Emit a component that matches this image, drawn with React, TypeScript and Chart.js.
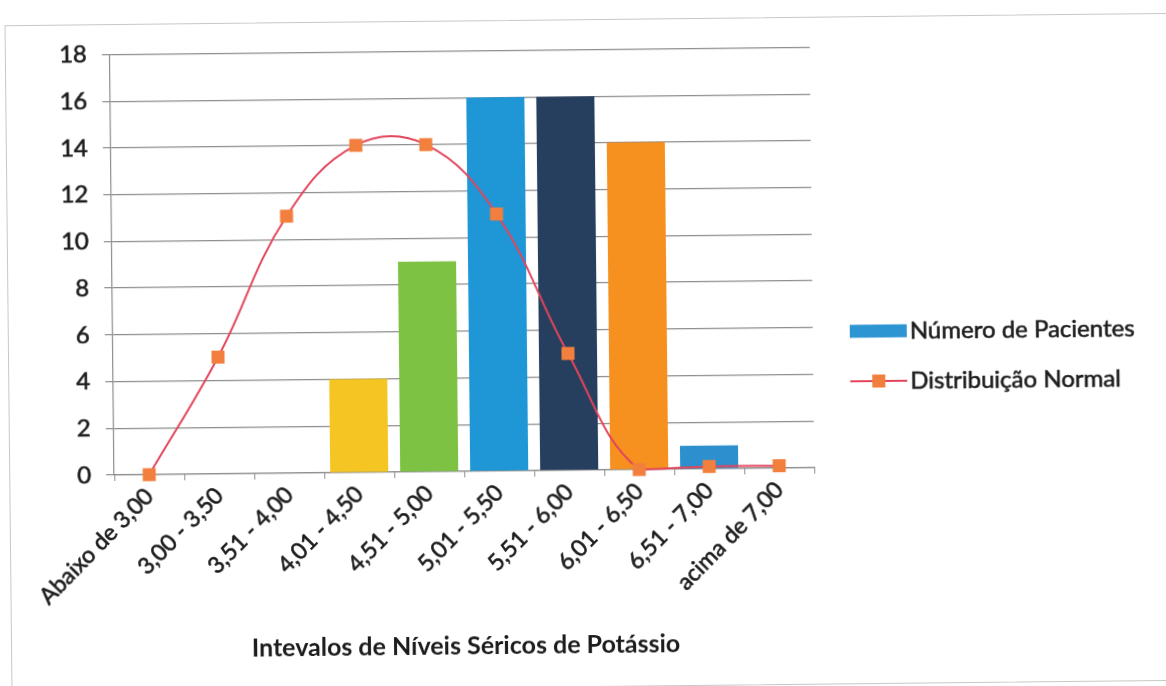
import { useEffect, useRef } from 'react';
import { Chart, registerables } from 'chart.js';

Chart.register(...registerables);

// Potassium level intervals (x categories)
const categories = [
  'Abaixo de 3,00',
  '3,00 - 3,50',
  '3,51 - 4,00',
  '4,01 - 4,50',
  '4,51 - 5,00',
  '5,01 - 5,50',
  '5,51 - 6,00',
  '6,01 - 6,50',
  '6,51 - 7,00',
  'acima de 7,00',
];

// Number of patients per interval
const pacientes = [0, 0, 0, 4, 9, 16, 16, 14, 1, 0];

// Normal distribution curve values
const distribuicaoNormal = [0, 5, 11, 14, 14, 11, 5, 0, 0.1, 0.1];

// Per-bar fill colours
const barColors = [
  '#2E95D3',
  '#2E95D3',
  '#2E95D3',
  '#F5C623',
  '#7DC243',
  '#1F96D5',
  '#263F5F',
  '#F6901F',
  '#2E8FCE',
  '#2E95D3',
];

const seriesNames = ['Número de Pacientes', 'Distribuição Normal'];

const FONT = 'Lato, "Open Sans", sans-serif';
const TEXT_COLOR = '#1c1c1c';
const LINE_COLOR = '#E2455B';
const MARKER_COLOR = '#F27F3D';
const GRID_COLOR = '#8e8e8e';

// Legend drawn at the right of the plot area
const sideLegend = {
  id: 'sideLegend',
  afterDraw(chart: any) {
    const { ctx } = chart;
    const x0 = chart.chartArea.right + 37;
    const boxW = 57;
    const y1 = 314;
    const y2 = 364;
    ctx.save();
    ctx.fillStyle = '#2E95D3';
    ctx.fillRect(x0, y1 - 6.5, boxW, 13);

    ctx.strokeStyle = LINE_COLOR;
    ctx.lineWidth = 2;
    ctx.beginPath();
    ctx.moveTo(x0, y2);
    ctx.lineTo(x0 + boxW, y2);
    ctx.stroke();
    ctx.fillStyle = MARKER_COLOR;
    ctx.fillRect(x0 + boxW / 2 - 6.5, y2 - 6.5, 13, 13);

    ctx.fillStyle = TEXT_COLOR;
    ctx.strokeStyle = TEXT_COLOR;
    ctx.lineWidth = 0.6;
    ctx.font = `24px ${FONT}`;
    ctx.textAlign = 'left';
    ctx.textBaseline = 'middle';
    seriesNames.forEach((name, i) => {
      const y = i === 0 ? y1 : y2;
      ctx.strokeText(name, x0 + boxW + 3, y);
      ctx.fillText(name, x0 + boxW + 3, y);
    });
    ctx.restore();
  },
};

export default function App() {
  const canvasRef = useRef<HTMLCanvasElement>(null);

  useEffect(() => {
    document.body.style.overflow = 'hidden';
    const chart = new Chart(canvasRef.current as HTMLCanvasElement, {
      type: 'bar',
      data: {
        labels: categories,
        datasets: [
          {
            type: 'line',
            label: seriesNames[1],
            data: distribuicaoNormal,
            order: 0,
            clip: false,
            borderColor: LINE_COLOR,
            borderWidth: 2,
            tension: 0.4,
            pointStyle: 'rect',
            pointRadius: 9.2,
            pointBackgroundColor: MARKER_COLOR,
            pointBorderColor: MARKER_COLOR,
            pointBorderWidth: 0,
          } as any,
          {
            type: 'bar',
            label: seriesNames[0],
            data: pacientes,
            order: 1,
            backgroundColor: barColors,
            borderWidth: 0,
            categoryPercentage: 1,
            barPercentage: 0.83,
          },
        ],
      },
      options: {
        responsive: false,
        animation: false,
        layout: { padding: { top: 28, right: 369, bottom: 22, left: 0 } },
        plugins: {
          legend: { display: false },
          tooltip: { enabled: false },
        },
        scales: {
          x: {
            offset: true,
            grid: {
              offset: true,
              drawOnChartArea: false,
              drawTicks: true,
              tickLength: 6,
              color: GRID_COLOR,
            },
            border: { display: true, color: GRID_COLOR, width: 1.2 },
            ticks: {
              color: TEXT_COLOR,
              textStrokeColor: TEXT_COLOR,
              textStrokeWidth: 0.6,
              font: { family: FONT, size: 23 },
              minRotation: 45,
              maxRotation: 45,
              padding: 2,
              autoSkip: false,
            },
            title: {
              display: true,
              text: 'Intevalos de Níveis Séricos de Potássio',
              color: TEXT_COLOR,
              font: { family: FONT, size: 25, weight: 'bold' },
              padding: { top: 0, bottom: 4 },
            },
            afterFit(scale: any) {
              scale.height = 194;
            },
          },
          y: {
            min: 0,
            max: 18,
            ticks: {
              stepSize: 2,
              color: TEXT_COLOR,
              textStrokeColor: TEXT_COLOR,
              textStrokeWidth: 0.6,
              font: { family: FONT, size: 24 },
              padding: 15,
            },
            grid: {
              color: GRID_COLOR,
              lineWidth: 1.2,
              tickLength: 8,
            },
            border: { display: true, color: GRID_COLOR, width: 1.2 },
            afterFit(scale: any) {
              scale.width = 104;
            },
          },
        },
      },
      plugins: [sideLegend],
    });
    return () => chart.destroy();
  }, []);

  return (
    <div style={{ position: 'fixed', inset: 0, overflow: 'hidden', background: '#fff' }}>
      <div
        style={{
          position: 'absolute',
          left: 8,
          top: 19,
          width: 1175,
          height: 668,
          border: '1px solid #c8c8c8',
          boxSizing: 'border-box',
          transform: 'rotate(-0.6deg)',
        }}
      >
        <canvas
          ref={canvasRef}
          width={1173}
          height={666}
          style={{ display: 'block', width: 1173, height: 666 }}
        />
      </div>
    </div>
  );
}
